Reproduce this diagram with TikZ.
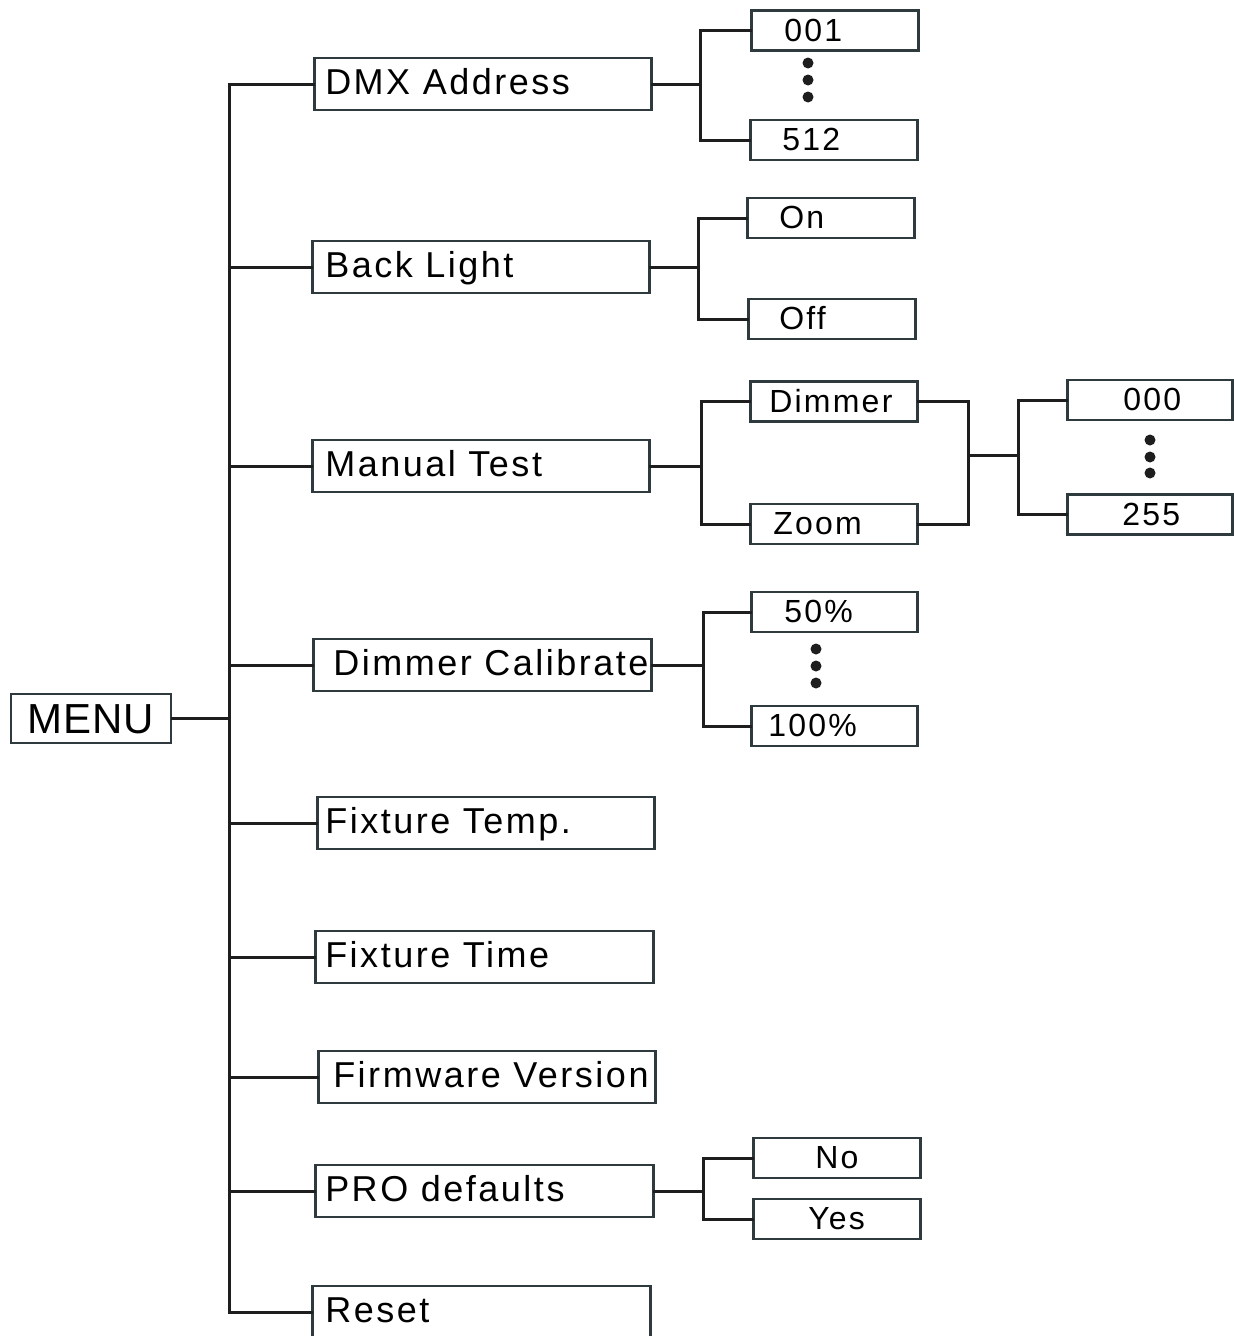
\documentclass[tikz,border=0pt]{standalone}
\usepackage{fontspec}
\newfontfamily\diafont{Liberation Sans}[LetterSpace=7]
\newfontfamily\menufont{Liberation Sans}[LetterSpace=2]
\newcommand\boxtext[3]{\makebox[#1][l]{\hspace*{#2}#3}}
\definecolor{linec}{HTML}{1E1E1E}
\definecolor{boxc}{HTML}{2E3A3E}
\begin{document}
\begin{tikzpicture}[x=1pt,y=-1pt,
  conn/.style={line width=3pt, draw=linec, line cap=rect},
  lvl/.style={draw=boxc, line width=2.5pt, anchor=west, minimum height=52pt, inner sep=0pt,
    text height=26pt, text depth=6pt, text=black, font=\diafont\fontsize{36}{40}\selectfont},
  sub/.style={draw=boxc, line width=2.5pt, anchor=west, minimum height=40pt, inner sep=0pt,
    text height=22pt, text depth=1pt, text=black, font=\diafont\fontsize{32}{36}\selectfont},
  dotc/.style={fill=linec}]
\useasboundingbox (0,0) rectangle (1234,1336);
\clip (0,0) rectangle (1234,1336);

% root
\node[draw=boxc, line width=2pt, anchor=north west, minimum width=160pt, minimum height=49pt, inner sep=0pt,
  text height=30pt, text depth=0pt, font=\menufont\fontsize{42}{46}\selectfont] (menu) at (10,693) {MENU};

% level 1
\node[lvl] (dmx)   at (313,84)   {\boxtext{337pt}{11pt}{DMX Address}};
\node[lvl] (bl)    at (311,267)  {\boxtext{337pt}{13pt}{Back Light}};
\node[lvl] (mt)    at (311,466)  {\boxtext{337pt}{13pt}{Manual Test}};
\node[lvl] (dc)    at (312,665)  {\boxtext{338pt}{20pt}{Dimmer Calibrate}};
\node[lvl] (ft)    at (316,823)  {\boxtext{337pt}{8pt}{Fixture Temp.}};
\node[lvl] (ftime) at (314,957)  {\boxtext{338pt}{10pt}{Fixture Time}};
\node[lvl] (fv)    at (317,1077) {\boxtext{337pt}{15pt}{Firmware Version}};
\node[lvl] (pro)   at (314,1191) {\boxtext{338pt}{10pt}{PRO defaults}};
\node[lvl] (reset) at (311,1312) {\boxtext{338pt}{13pt}{Reset}};

% level 2
\node[sub] (d001) at (750,30.5) {\boxtext{167pt}{33pt}{001}};
\node[sub] (d512) at (749,140)  {\boxtext{167pt}{32pt}{512}};
\node[sub] (on)   at (746,218)  {\boxtext{167pt}{32pt}{On}};
\node[sub] (off)  at (747,319)  {\boxtext{167pt}{31pt}{Off}};
\node[sub] (dim)  at (749,401.5){\boxtext{167pt}{19pt}{Dimmer}};
\node[sub] (zoom) at (749,524)  {\boxtext{167pt}{23pt}{Zoom}};
\node[sub] (v000) at (1066,400) {\boxtext{165pt}{56pt}{000}};
\node[sub] (v255) at (1066,514.5){\boxtext{165pt}{55pt}{255}};
\node[sub] (p50)  at (750,612)  {\boxtext{166pt}{33pt}{50\%}};
\node[sub] (p100) at (750,726)  {\boxtext{166pt}{17pt}{100\%}};
\node[sub] (no)   at (752,1158) {\boxtext{167pt}{62pt}{No}};
\node[sub] (yes)  at (752,1219) {\boxtext{167pt}{55pt}{Yes}};

% trunk
\coordinate (tx) at (229,0);
\draw[conn] (dmx.west -| tx) -- (reset.west -| tx);
\draw[conn] (menu.east) -- (menu.east -| tx);
\foreach \n in {dmx,bl,mt,dc,ft,ftime,fv,pro,reset}
  \draw[conn] (\n.west -| tx) -- (\n.west);

% DMX branch
\coordinate (jd) at (700,0);
\draw[conn] (dmx.east) -- (dmx.east -| jd);
\draw[conn] (d001.west) -- (d001.west -| jd) -- (d512.west -| jd) -- (d512.west);

% Back light branch
\coordinate (jb) at (698,0);
\draw[conn] (bl.east) -- (bl.east -| jb);
\draw[conn] (on.west) -- (on.west -| jb) -- (off.west -| jb) -- (off.west);

% Manual test branch
\coordinate (jm) at (701,0);
\draw[conn] (mt.east) -- (mt.east -| jm);
\draw[conn] (dim.west) -- (dim.west -| jm) -- (zoom.west -| jm) -- (zoom.west);
\coordinate (jr) at (968,0);
\coordinate (jr2) at (1018,0);
\draw[conn] (dim.east) -- (dim.east -| jr) -- (zoom.east -| jr) -- (zoom.east);
\coordinate (mid) at (968,455);
\draw[conn] (mid) -- (mid -| jr2);
\draw[conn] (v000.west) -- (v000.west -| jr2) -- (v255.west -| jr2) -- (v255.west);

% Dimmer calibrate branch
\coordinate (jc) at (703,0);
\draw[conn] (dc.east) -- (dc.east -| jc);
\draw[conn] (p50.west) -- (p50.west -| jc) -- (p100.west -| jc) -- (p100.west);

% PRO defaults branch
\coordinate (jp) at (703,0);
\draw[conn] (pro.east) -- (pro.east -| jp);
\draw[conn] (no.west) -- (no.west -| jp) -- (yes.west -| jp) -- (yes.west);

% ellipsis dots
\foreach \y in {63,80,97} \fill[dotc] (808,\y) circle (5.5pt);
\foreach \y in {440,457,473} \fill[dotc] (1150,\y) circle (5.5pt);
\foreach \y in {649,666,683} \fill[dotc] (816,\y) circle (5.5pt);
\end{tikzpicture}
\end{document}
